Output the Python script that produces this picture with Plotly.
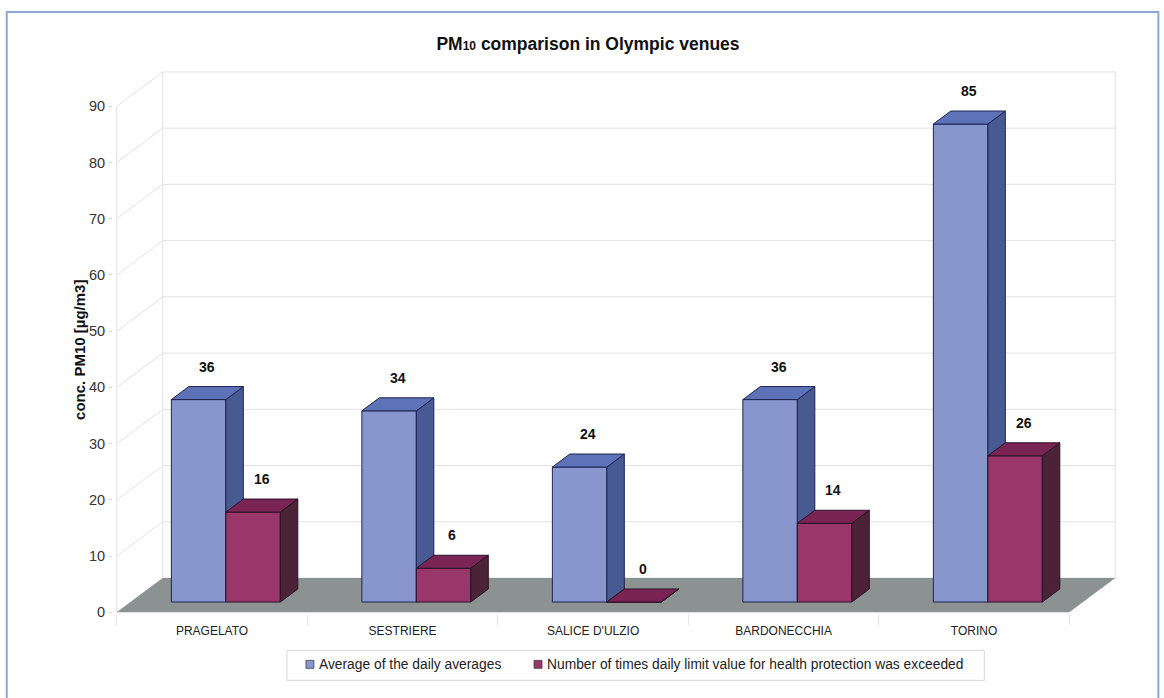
import plotly.graph_objects as go

# ---- data -------------------------------------------------------------
categories = ["PRAGELATO", "SESTRIERE", "SALICE D'ULZIO", "BARDONECCHIA", "TORINO"]
avg_daily = [36, 34, 24, 36, 85]
exceedances = [16, 6, 0, 14, 26]
series_names = [
    "Average of the daily averages",
    "Number of times daily limit value for health protection was exceeded",
]
y_ticks = [0, 10, 20, 30, 40, 50, 60, 70, 80, 90]

# ---- 3-D look parameters (axis units) ---------------------------------
DEPTH_X = 0.2413      # shift of the back wall, in category units
DEPTH_Y = 6.1         # shift of the back wall, in value units
FRONT = 0.30          # share of the depth in front of the bars
BAR_DEPTH = 0.38      # share of the depth taken by the bars
BAR_W = 0.286         # width of one bar, in category units
N = len(categories)

# page geometry
W, H = 1164, 698
PX_X = 190.4          # pixels per category
PX_Y = 540 / 96.1     # pixels per value unit
ORIGIN = (117, 612)   # pixel of (0, 0)
X_RANGE = [-0.02, N + DEPTH_X + 0.03]
Y_RANGE = [-0.3, 90 + DEPTH_Y + 0.7]
m_l = ORIGIN[0] + X_RANGE[0] * PX_X
m_r = W - (ORIGIN[0] + X_RANGE[1] * PX_X)
m_b = H - (ORIGIN[1] - Y_RANGE[0] * PX_Y)
m_t = ORIGIN[1] - Y_RANGE[1] * PX_Y
plot_w = W - m_l - m_r
plot_h = H - m_t - m_b


def px_x(px):
    return (px - m_l) / plot_w


def px_y(py):
    return 1 - (py - m_t) / plot_h


FONT = "Liberation Sans, Arial"
colors = {
    "blue": dict(front="#8796CD", top="#5E72B8", side="#475A92", line="#1E2450"),
    "red": dict(front="#9A376A", top="#7A2454", side="#4C2237", line="#2A1226"),
}


def faces(x0, x1, v):
    ox, oy = FRONT * DEPTH_X, FRONT * DEPTH_Y
    dx, dy = BAR_DEPTH * DEPTH_X, BAR_DEPTH * DEPTH_Y
    xl, xr = x0 + ox, x1 + ox
    yb, yt = oy, oy + v
    front = [(xl, yb), (xr, yb), (xr, yt), (xl, yt)]
    top = [(xl, yt), (xr, yt), (xr + dx, yt + dy), (xl + dx, yt + dy)]
    side = [(xr, yb), (xr + dx, yb + dy), (xr + dx, yt + dy), (xr, yt)]
    return dict(front=front, top=top, side=side)


def poly_trace(polys, fill, line):
    xs, ys = [], []
    for p in polys:
        for (x, y) in p + [p[0]]:
            xs.append(x)
            ys.append(y)
        xs.append(None)
        ys.append(None)
    return go.Scatter(x=xs, y=ys, mode="lines", fill="toself", fillcolor=fill,
                      line=dict(color=line, width=1), hoverinfo="skip",
                      showlegend=False)


fig = go.Figure()

series = [("blue", avg_daily, -BAR_W), ("red", exceedances, 0.0)]
annotations = []
for key, vals, off in series:
    boxes = [faces(i + 0.5 + off, i + 0.5 + off + BAR_W, v) for i, v in enumerate(vals)]
    c = colors[key]
    for face in ("front", "side", "top") if key == "blue" else ("front", "top", "side"):
        fig.add_trace(poly_trace([b[face] for b in boxes], c[face], c["line"]))
    for i, v in enumerate(vals):
        xc = i + 0.5 + off + BAR_W / 2 + FRONT * DEPTH_X + BAR_DEPTH * DEPTH_X / 2
        yc = v + FRONT * DEPTH_Y + BAR_DEPTH * DEPTH_Y
        annotations.append(dict(x=xc, y=yc, xref="x", yref="y", text=f"<b>{v}</b>",
                                showarrow=False, yshift=20, yanchor="middle",
                                font=dict(family=FONT, size=14, color="#111111")))

# ---- walls, floor and grid -------------------------------------------
grid = "#E2E2E2"
shapes = []
for v in y_ticks:
    shapes.append(dict(type="line", xref="x", yref="y", x0=0, y0=v,
                       x1=DEPTH_X, y1=v + DEPTH_Y, line=dict(color=grid, width=1),
                       layer="below"))
    shapes.append(dict(type="line", xref="x", yref="y", x0=DEPTH_X, y0=v + DEPTH_Y,
                       x1=N + DEPTH_X, y1=v + DEPTH_Y, line=dict(color=grid, width=1),
                       layer="below"))
for xv in (DEPTH_X, N + DEPTH_X):
    shapes.append(dict(type="line", xref="x", yref="y", x0=xv, y0=DEPTH_Y,
                       x1=xv, y1=90 + DEPTH_Y, line=dict(color=grid, width=1),
                       layer="below"))
shapes.append(dict(type="line", xref="x", yref="y", x0=0, y0=0, x1=0, y1=90,
                   line=dict(color=grid, width=1), layer="below"))
shapes.append(dict(type="path", xref="x", yref="y",
                   path=f"M0,0 L{N},0 L{N + DEPTH_X},{DEPTH_Y} L{DEPTH_X},{DEPTH_Y} Z",
                   fillcolor="#8C9191", line=dict(width=0), layer="below"))

# ---- legend box ---------------------------------------------------------
shapes.append(dict(type="rect", xref="paper", yref="paper",
                   x0=px_x(287), x1=px_x(984), y0=px_y(680), y1=px_y(650),
                   line=dict(color="#D6D6D6", width=1), fillcolor="white"))
legend_items = [(310, colors["blue"]["front"], series_names[0]),
                (538, colors["red"]["front"], series_names[1])]
for cx, col, name in legend_items:
    shapes.append(dict(type="rect", xref="paper", yref="paper",
                       x0=px_x(cx - 4), x1=px_x(cx + 4), y0=px_y(668), y1=px_y(660),
                       line=dict(color="#333333", width=0.7), fillcolor=col))
    annotations.append(dict(x=px_x(cx + 7), y=px_y(664), xref="paper", yref="paper",
                            text=name, showarrow=False, xanchor="left",
                            yanchor="middle",
                            font=dict(family=FONT, size=13.8, color="#222222")))

# outer frame
shapes.append(dict(type="rect", xref="paper", yref="paper",
                   x0=px_x(7), x1=px_x(1158), y0=px_y(710), y1=px_y(12),
                   line=dict(color="#8EA6D8", width=2)))

# y axis title
annotations.append(dict(x=px_x(79), y=px_y(350), xref="paper", yref="paper",
                        text="<b>conc. PM10 [µg/m3]</b>", textangle=-90,
                        showarrow=False, xanchor="center", yanchor="middle",
                        font=dict(family=FONT, size=15, color="#111111")))

fig.update_layout(
    width=W, height=H, autosize=False,
    margin=dict(l=m_l, r=m_r, t=m_t, b=m_b, pad=0),
    paper_bgcolor="white", plot_bgcolor="white",
    showlegend=False,
    title=dict(text="<b>PM<span style='font-size:12px'>10</span> comparison in Olympic venues</b>",
               x=588 / W, xanchor="center", y=1 - 44 / H, yanchor="middle",
               xref="container", yref="container",
               font=dict(family=FONT, size=17.5, color="#111111")),
    xaxis=dict(range=X_RANGE, tickvals=[i + 0.5 for i in range(N)], ticktext=categories,
               ticks="", showgrid=False, zeroline=False, showline=False,
               tickfont=dict(family=FONT, size=12, color="#222222"),
               ticklabelstandoff=8,
               minor=dict(tickvals=list(range(N + 1)), ticks="outside", ticklen=10,
                          tickcolor="#E3E3E3", showgrid=False)),
    yaxis=dict(range=Y_RANGE, tickvals=y_ticks, ticks="outside", ticklen=4,
               tickcolor="#DADADA", showgrid=False, zeroline=False, showline=False,
               tickfont=dict(family=FONT, size=14.5, color="#333333")),
    shapes=shapes,
    annotations=annotations,
)

fig.write_html("out.html")
